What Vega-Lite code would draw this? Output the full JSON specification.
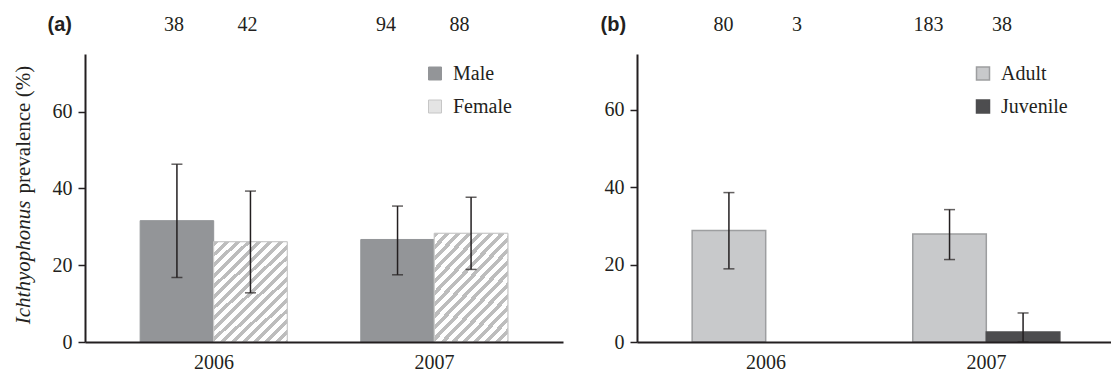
{
  "$schema": "https://vega.github.io/schema/vega-lite/v6.json",
  "background": "white",
  "padding": {"left": 12, "top": 15, "right": 0, "bottom": 0},
  "config": {"view": {"stroke": null}, "axis": {"grid": false}, "font": "Liberation Serif"},
  "datasets": {
    "a": [
      {"bar": "2006 Male", "year": "2006", "sex": "Male", "p": 31.6, "lo": 16.8, "hi": 46.3, "n": "38"},
      {"bar": "2006 Female", "year": "2006", "sex": "Female", "p": 26.1, "lo": 12.8, "hi": 39.3, "n": "42"},
      {"bar": "2007 Male", "year": "2007", "sex": "Male", "p": 26.7, "lo": 17.5, "hi": 35.4, "n": "94"},
      {"bar": "2007 Female", "year": "2007", "sex": "Female", "p": 28.3, "lo": 18.9, "hi": 37.7, "n": "88"}
    ],
    "b": [
      {"bar": "2006 Adult", "year": "2006", "age": "Adult", "p": 28.8, "lo": 18.9, "hi": 38.6, "n": "80"},
      {"bar": "2006 Juvenile", "year": "2006", "age": "Juvenile", "p": null, "lo": null, "hi": null, "n": "3"},
      {"bar": "2007 Adult", "year": "2007", "age": "Adult", "p": 27.9, "lo": 21.3, "hi": 34.2, "n": "183"},
      {"bar": "2007 Juvenile", "year": "2007", "age": "Juvenile", "p": 2.6, "lo": 0, "hi": 7.5, "n": "38"}
    ]
  },
  "spacing": 37,
  "resolve": {"scale": {"fill": "independent", "stroke": "independent"}},
  "hconcat": [
    {
      "width": 478,
      "height": 288,
      "title": {"text": "(a)", "anchor": "start", "frame": "bounds", "font": "Liberation Sans", "fontWeight": "bold", "fontSize": 20, "color": "#231f20", "dx": 35, "offset": -36, "baseline": "alphabetic"},
      "data": {"name": "a"},
      "encoding": {
        "x": {"field": "bar", "type": "nominal",
          "scale": {"type": "band", "domain": ["2006 Male", "2006 Female", "gap", "2007 Male", "2007 Female"], "paddingInner": 0, "paddingOuter": 0.75},
          "axis": {"title": null, "values": ["2006 Female", "2007 Female"], "bandPosition": 0, "labelOffset": -36.5, "labelExpr": "slice(datum.label, 0, 4)", "ticks": false, "labelAngle": 0, "labelFont": "Liberation Serif", "labelFontSize": 20, "labelColor": "#231f20", "labelPadding": 10, "domainColor": "#231f20", "domainWidth": 2, "zindex": 1}}
      },
      "resolve": {"axis": {"y": "independent"}},
      "layer": [
        {
          "mark": {"type": "bar", "strokeWidth": 1},
          "encoding": {
            "y": {"field": "p", "type": "quantitative", "scale": {"domain": [0, 75], "nice": false},
              "axis": {"orient": "left", "values": [0, 20, 40, 60], "title": "Ichthyophonus", "titleFontStyle": "italic", "titleFont": "Liberation Serif", "titleFontSize": 21, "titleFontWeight": "normal", "titleColor": "#231f20", "titleX": -55.5, "titleY": 269.7, "titleAlign": "left", "titleAngle": -90, "titleBaseline": "alphabetic",
                "domainColor": "#231f20", "domainWidth": 2, "tickColor": "#231f20", "tickSize": 7, "tickWidth": 1.5, "labelFont": "Liberation Serif", "labelFontSize": 20, "labelColor": "#231f20", "labelPadding": 6}},
            "fill": {"field": "sex", "type": "nominal", "scale": {"domain": ["Male", "Female"], "range": ["#939598", "#e4e4e4"]},
              "legend": {"title": null, "orient": "none", "legendX": 340, "legendY": 9.5, "symbolType": "square", "symbolSize": 169, "labelFont": "Liberation Serif", "labelFontSize": 20, "labelColor": "#231f20", "rowPadding": 13, "labelOffset": 8, "padding": 0, "symbolStrokeWidth": 1}},
            "stroke": {"field": "sex", "type": "nominal", "scale": {"domain": ["Male", "Female"], "range": ["#939598", "#c6c6c6"]},
              "legend": {"title": null, "orient": "none", "legendX": 340, "legendY": 9.5, "symbolType": "square", "symbolSize": 169, "labelFont": "Liberation Serif", "labelFontSize": 20, "labelColor": "#231f20", "rowPadding": 13, "labelOffset": 8, "padding": 0, "symbolStrokeWidth": 1}}
          }
        },
        {
          "transform": [{"filter": "datum.sex == 'Female'"}],
          "mark": {"type": "bar", "stroke": "#c6c6c6", "strokeWidth": 1,
            "fill": {"gradient": "linear", "x1": 0, "y1": 0, "x2": 1, "y2": 1.4, "stops": [
              {"offset": 0.0, "color": "#bdbdbd"}, {"offset": 0.023, "color": "#bdbdbd"}, {"offset": 0.023, "color": "#ffffff"}, {"offset": 0.05, "color": "#ffffff"},
              {"offset": 0.05, "color": "#bdbdbd"}, {"offset": 0.073, "color": "#bdbdbd"}, {"offset": 0.073, "color": "#ffffff"}, {"offset": 0.10, "color": "#ffffff"},
              {"offset": 0.10, "color": "#bdbdbd"}, {"offset": 0.123, "color": "#bdbdbd"}, {"offset": 0.123, "color": "#ffffff"}, {"offset": 0.15, "color": "#ffffff"},
              {"offset": 0.15, "color": "#bdbdbd"}, {"offset": 0.173, "color": "#bdbdbd"}, {"offset": 0.173, "color": "#ffffff"}, {"offset": 0.20, "color": "#ffffff"},
              {"offset": 0.20, "color": "#bdbdbd"}, {"offset": 0.223, "color": "#bdbdbd"}, {"offset": 0.223, "color": "#ffffff"}, {"offset": 0.25, "color": "#ffffff"},
              {"offset": 0.25, "color": "#bdbdbd"}, {"offset": 0.273, "color": "#bdbdbd"}, {"offset": 0.273, "color": "#ffffff"}, {"offset": 0.30, "color": "#ffffff"},
              {"offset": 0.30, "color": "#bdbdbd"}, {"offset": 0.323, "color": "#bdbdbd"}, {"offset": 0.323, "color": "#ffffff"}, {"offset": 0.35, "color": "#ffffff"},
              {"offset": 0.35, "color": "#bdbdbd"}, {"offset": 0.373, "color": "#bdbdbd"}, {"offset": 0.373, "color": "#ffffff"}, {"offset": 0.40, "color": "#ffffff"},
              {"offset": 0.40, "color": "#bdbdbd"}, {"offset": 0.423, "color": "#bdbdbd"}, {"offset": 0.423, "color": "#ffffff"}, {"offset": 0.45, "color": "#ffffff"},
              {"offset": 0.45, "color": "#bdbdbd"}, {"offset": 0.473, "color": "#bdbdbd"}, {"offset": 0.473, "color": "#ffffff"}, {"offset": 0.50, "color": "#ffffff"},
              {"offset": 0.50, "color": "#bdbdbd"}, {"offset": 0.523, "color": "#bdbdbd"}, {"offset": 0.523, "color": "#ffffff"}, {"offset": 0.55, "color": "#ffffff"},
              {"offset": 0.55, "color": "#bdbdbd"}, {"offset": 0.573, "color": "#bdbdbd"}, {"offset": 0.573, "color": "#ffffff"}, {"offset": 0.60, "color": "#ffffff"},
              {"offset": 0.60, "color": "#bdbdbd"}, {"offset": 0.623, "color": "#bdbdbd"}, {"offset": 0.623, "color": "#ffffff"}, {"offset": 0.65, "color": "#ffffff"},
              {"offset": 0.65, "color": "#bdbdbd"}, {"offset": 0.673, "color": "#bdbdbd"}, {"offset": 0.673, "color": "#ffffff"}, {"offset": 0.70, "color": "#ffffff"},
              {"offset": 0.70, "color": "#bdbdbd"}, {"offset": 0.723, "color": "#bdbdbd"}, {"offset": 0.723, "color": "#ffffff"}, {"offset": 0.75, "color": "#ffffff"},
              {"offset": 0.75, "color": "#bdbdbd"}, {"offset": 0.773, "color": "#bdbdbd"}, {"offset": 0.773, "color": "#ffffff"}, {"offset": 0.80, "color": "#ffffff"},
              {"offset": 0.80, "color": "#bdbdbd"}, {"offset": 0.823, "color": "#bdbdbd"}, {"offset": 0.823, "color": "#ffffff"}, {"offset": 0.85, "color": "#ffffff"},
              {"offset": 0.85, "color": "#bdbdbd"}, {"offset": 0.873, "color": "#bdbdbd"}, {"offset": 0.873, "color": "#ffffff"}, {"offset": 1.0, "color": "#ffffff"}
            ]}},
          "encoding": {"y": {"field": "p", "type": "quantitative", "scale": {"domain": [0, 75], "nice": false}, "axis": null}}
        },
        {
          "mark": {"type": "rule", "color": "#231f20", "strokeWidth": 1.5},
          "encoding": {"y": {"field": "lo", "type": "quantitative", "scale": {"domain": [0, 75], "nice": false}, "axis": null}, "y2": {"field": "hi"}}
        },
        {
          "mark": {"type": "tick", "color": "#231f20", "thickness": 1.5, "size": 11},
          "encoding": {"y": {"field": "lo", "type": "quantitative", "scale": {"domain": [0, 75], "nice": false}, "axis": null}}
        },
        {
          "mark": {"type": "tick", "color": "#231f20", "thickness": 1.5, "size": 11},
          "encoding": {"y": {"field": "hi", "type": "quantitative", "scale": {"domain": [0, 75], "nice": false}, "axis": null}}
        },
        {
          "transform": [{"filter": "datum.year == '2006'"}],
          "mark": {"type": "text", "dx": -3, "fontSize": 20, "font": "Liberation Serif", "color": "#231f20", "baseline": "alphabetic", "align": "center"},
          "encoding": {
            "y": {"datum": 80.9, "type": "quantitative", "scale": {"domain": [0, 75], "nice": false},
              "axis": {"orient": "left", "title": "prevalence (%)", "labels": false, "ticks": false, "domain": false, "titleFont": "Liberation Serif", "titleFontSize": 21, "titleFontWeight": "normal", "titleFontStyle": "normal", "titleColor": "#231f20", "titleX": -55.5, "titleY": 139, "titleAlign": "left", "titleAngle": -90, "titleBaseline": "alphabetic"}},
            "text": {"field": "n"}
          }
        },
        {
          "transform": [{"filter": "datum.year == '2007'"}],
          "mark": {"type": "text", "dx": -11.5, "fontSize": 20, "font": "Liberation Serif", "color": "#231f20", "baseline": "alphabetic", "align": "center"},
          "encoding": {
            "y": {"datum": 80.9, "type": "quantitative", "scale": {"domain": [0, 75], "nice": false}, "axis": null},
            "text": {"field": "n"}
          }
        }
      ]
    },
    {
      "width": 478,
      "height": 288,
      "title": {"text": "(b)", "anchor": "start", "frame": "bounds", "font": "Liberation Sans", "fontWeight": "bold", "fontSize": 20, "color": "#231f20", "dx": -3.5, "offset": -36, "baseline": "alphabetic"},
      "data": {"name": "b"},
      "encoding": {
        "x": {"field": "bar", "type": "nominal",
          "scale": {"type": "band", "domain": ["2006 Adult", "2006 Juvenile", "gap", "2007 Adult", "2007 Juvenile"], "paddingInner": 0, "paddingOuter": 0.75},
          "axis": {"title": null, "values": ["2006 Juvenile", "2007 Juvenile"], "bandPosition": 0, "labelOffset": -36.5, "labelExpr": "slice(datum.label, 0, 4)", "ticks": false, "labelAngle": 0, "labelFont": "Liberation Serif", "labelFontSize": 20, "labelColor": "#231f20", "labelPadding": 10, "domainColor": "#231f20", "domainWidth": 2, "zindex": 1}}
      },
      "resolve": {"axis": {"y": "independent"}},
      "layer": [
        {
          "mark": {"type": "bar", "strokeWidth": 1.5},
          "encoding": {
            "y": {"field": "p", "type": "quantitative", "scale": {"domain": [0, 74.4], "nice": false},
              "axis": {"orient": "left", "values": [0, 20, 40, 60], "title": null,
                "domainColor": "#231f20", "domainWidth": 2, "tickColor": "#231f20", "tickSize": 7, "tickWidth": 1.5, "labelFont": "Liberation Serif", "labelFontSize": 20, "labelColor": "#231f20", "labelPadding": 6}},
            "fill": {"field": "age", "type": "nominal", "scale": {"domain": ["Adult", "Juvenile"], "range": ["#c8c9cb", "#4d4d4f"]},
              "legend": {"title": null, "orient": "none", "legendX": 336, "legendY": 9.5, "symbolType": "square", "symbolSize": 169, "labelFont": "Liberation Serif", "labelFontSize": 20, "labelColor": "#231f20", "rowPadding": 13, "labelOffset": 8, "padding": 0, "symbolStrokeWidth": 1.5}},
            "stroke": {"field": "age", "type": "nominal", "scale": {"domain": ["Adult", "Juvenile"], "range": ["#9d9ea0", "#4d4d4f"]},
              "legend": {"title": null, "orient": "none", "legendX": 336, "legendY": 9.5, "symbolType": "square", "symbolSize": 169, "labelFont": "Liberation Serif", "labelFontSize": 20, "labelColor": "#231f20", "rowPadding": 13, "labelOffset": 8, "padding": 0, "symbolStrokeWidth": 1.5}}
          }
        },
        {
          "mark": {"type": "rule", "color": "#231f20", "strokeWidth": 1.5},
          "encoding": {"y": {"field": "lo", "type": "quantitative", "scale": {"domain": [0, 74.4], "nice": false}, "axis": null}, "y2": {"field": "hi"}}
        },
        {
          "mark": {"type": "tick", "color": "#231f20", "thickness": 1.5, "size": 11},
          "encoding": {"y": {"field": "lo", "type": "quantitative", "scale": {"domain": [0, 74.4], "nice": false}, "axis": null}}
        },
        {
          "mark": {"type": "tick", "color": "#231f20", "thickness": 1.5, "size": 11},
          "encoding": {"y": {"field": "hi", "type": "quantitative", "scale": {"domain": [0, 74.4], "nice": false}, "axis": null}}
        },
        {
          "transform": [{"filter": "datum.year == '2006'"}],
          "mark": {"type": "text", "dx": -5.5, "fontSize": 20, "font": "Liberation Serif", "color": "#231f20", "baseline": "alphabetic", "align": "center"},
          "encoding": {
            "y": {"datum": 80.3, "type": "quantitative", "scale": {"domain": [0, 74.4], "nice": false}, "axis": null},
            "text": {"field": "n"}
          }
        },
        {
          "transform": [{"filter": "datum.year == '2007'"}],
          "mark": {"type": "text", "dx": -21, "fontSize": 20, "font": "Liberation Serif", "color": "#231f20", "baseline": "alphabetic", "align": "center"},
          "encoding": {
            "y": {"datum": 80.3, "type": "quantitative", "scale": {"domain": [0, 74.4], "nice": false}, "axis": null},
            "text": {"field": "n"}
          }
        }
      ]
    }
  ]
}
